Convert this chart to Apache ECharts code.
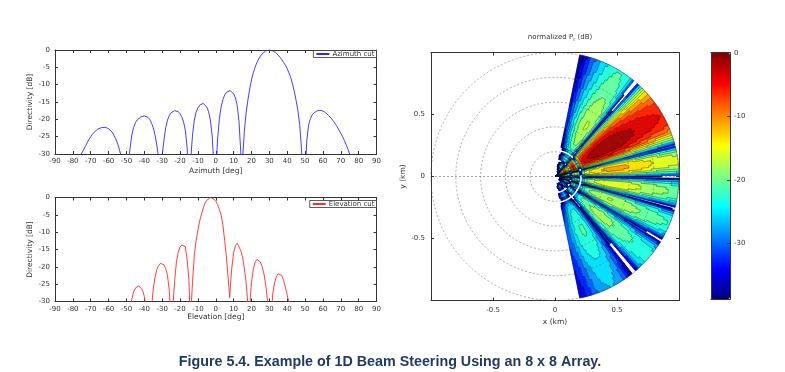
<!DOCTYPE html>
<html><head><meta charset="utf-8">
<script src="https://cdn.jsdelivr.net/npm/echarts@6/dist/echarts.min.js"></script>
<style>html,body{margin:0;padding:0;background:#fff}#c{width:785px;height:372px}</style>
</head><body><div id="c"></div>
<script>
// ---------- data ----------
const AZ_DEG = [-90,-85,-80,-78,-77,-76,-75,-74,-73,-72,-71,-70,-69,-68,-67,-66,-65,-64,-63,-62,-61,-60,-59,-58,-57,-56,-55,-54,-53,-52,-51,
  -50.5,-50,-49,-48,-47,-46,-45,-44,-43,-42,-41,-40,-39,-38,-37,-36,-35,-34,-33,-32,-31.5,-31,
  -30,-29,-28,-27,-26,-25,-24,-23,-22,-21,-20,-19,-18,-17,-16,-15.5,-14.8,-14,
  -13,-12,-11,-10,-9,-8,-7,-6,-5,-4,-3,-2,-1,-0.6,0,
  1,2,3,4,5,6,7,8,9,10,11,12,13,14,14.6,15,
  16,17,18,19,20,21,22,23,24,25,26,27,28,29,30,31,32,33,34,35,36,37,38,39,40,41,42,43,44,45,46,47,48,
  49,49.3,50,51,52,53,54,55,56,57,58,59,60,61,62,63,64,65,66,67,68,69,70,71,72,73,74,75,76,77,78,80,85,90];
const AZ_DB = [-42,-38,-33.5,-31.8,-31,-30.4,-29.7,-28.8,-27.8,-26.8,-25.8,-25,-24.3,-23.7,-23.2,-22.8,-22.6,-22.4,-22.3,-22.3,-22.4,-22.7,-23.1,-23.7,-24.6,-25.6,-26.9,-28.6,-30.6,-33.5,-38,
  -48,-38,-32.5,-28.5,-24.5,-22.4,-21,-20.2,-19.7,-19.3,-19.1,-19,-19.1,-19.4,-20,-21,-22.4,-24.5,-27.5,-31,-48,-36,
  -30.5,-26,-22.4,-20.2,-18.9,-18.1,-17.7,-17.5,-17.5,-17.8,-18.4,-19.3,-20.8,-23.2,-28.5,-35,-48,-31.5,
  -24.5,-20.2,-18,-16.7,-15.9,-15.5,-15.4,-15.7,-16.5,-17.8,-20.2,-24.8,-34,-48,-36,
  -26,-20,-16.5,-14.3,-13,-12.2,-11.8,-11.7,-11.9,-12.6,-13.8,-16,-20.5,-29.3,-48,-32,
  -23.5,-18.2,-14.4,-11.3,-8.6,-6.6,-5,-3.7,-2.6,-1.8,-1.1,-0.6,-0.25,-0.05,0,-0.05,-0.25,-0.6,-0.95,-1.5,-2.1,-2.8,-3.6,-4.4,-5.4,-6.6,-8,-9.8,-12,-14.6,-17.5,-21.5,-28.5,
  -38,-48,-36,-26,-21.6,-19.8,-18.7,-18.1,-17.7,-17.5,-17.4,-17.4,-17.6,-17.9,-18.3,-18.8,-19.3,-19.9,-20.6,-21.4,-22.2,-23.1,-24,-25,-26.1,-27.3,-28.6,-30,-31.5,-33,-34.5,-37,-42,-45];

const EL_DEG = [-50,-49,-48,-47,-46,-45,-44,-43,-42,-41,-40,-39,-38,-37.5,-37,
  -36,-35,-34,-33,-32,-31,-30,-29,-28,-27,-26,-25,-24.8,
  -24,-23,-22,-21,-20,-19,-18,-17,-16,-15,-14.5,-14,-13.5,
  -13,-12,-11,-10,-9,-8,-7,-6,-5,-4,-3,-2,-1,0,1,2,3,4,5,6,7,7.8,8.5,
  9,10,11,12,13,14,15,16,17,18,18.6,
  19,20,21,22,23,24,25,26,27,28,29,30.4,
  31,32,33,34,35,36,37,38,39,40,41,42];
const EL_DB = [-40,-35,-31.5,-29.4,-27.2,-26.1,-25.6,-25.5,-25.8,-26.7,-28.5,-32,-38,-45,-38,
  -32,-26.5,-23,-20.8,-19.6,-19,-18.9,-19.4,-20.5,-22.5,-27,-36,-45,
  -31.5,-24,-18.5,-15.8,-14.3,-13.7,-13.5,-14.2,-18,-24,-32,-40,-29,
  -24.5,-16.5,-12.5,-9.4,-6.8,-4.8,-3,-1.6,-0.8,-0.25,0,-0.1,-0.5,-1.1,-2,-3.4,-5,-8,-12.4,-17.3,-23.5,-28.9,-23.5,
  -20.3,-16,-13.9,-13.2,-13.6,-15.3,-17.2,-20.3,-24.5,-31,-42,
  -31.5,-24.5,-20.8,-18.7,-17.9,-17.8,-18.6,-20,-22.1,-25.2,-29.8,-42,
  -34,-27.5,-24.5,-22.7,-22,-21.9,-22.5,-23.9,-25.9,-28.2,-30.2,-33];

// radial profile of the received power along the beam (km, dB relative)
const RAD_KM = [0.01,0.03,0.05,0.07,0.09,0.11,0.13,0.15,0.17,0.19,0.21,0.23,0.25,0.27,0.29,0.31,0.33,0.35,0.37,0.39,
  0.41,0.43,0.45,0.47,0.49,0.51,0.53,0.55,0.57,0.59,0.61,0.63,0.65,0.67,0.69,0.71,0.73,0.75,0.77,0.79,
  0.81,0.83,0.85,0.87,0.89,0.91,0.93,0.95,0.97,0.99];
const RAD_DB = [-36,-28,-20,-12,-6,-11,-20,-7,-4.5,-10,-25,-9,-5,-3.8,-2.9,-2.3,-1.8,-1.4,-1.0,-0.7,
  -0.45,-0.25,-0.1,0,0,-0.05,-0.15,-0.3,-0.5,-0.7,-0.95,-1.2,-1.45,-1.7,-2.0,-2.25,-2.5,-2.75,-3.0,-3.25,
  -3.5,-3.7,-3.9,-4.1,-4.3,-4.5,-4.7,-4.85,-5.0,-5.15];

const RING_KM = [0.2, 0.4, 0.6, 0.8, 1.0];
const SECTOR_DEG = 78;
const LEVEL_MIN = -40, LEVEL_STEP = 2.5, N_LEVELS = 16;
const CBAR_MIN = -38.8, CBAR_MAX = 0;

// ---------- styling ----------
const BAND_COLORS = ['#00009F','#0000DF','#0020FF','#0060FF','#009FFF','#00DFFF','#20FFDF','#60FF9F',
  '#9FFF60','#DFFF20','#FFDF00','#FF9F00','#FF6000','#FF2000','#DF0000','#9F0000'];
const JET = ['#000080','#0000FF','#0080FF','#00FFFF','#80FF80','#FFFF00','#FF8000','#FF0000','#800000'];
const FONT = 'DejaVu Sans';
const TXT = '#333';

// ---------- polar grid of cells built from the arrays ----------
const PA = [];
AZ_DEG.forEach((d, i) => { if (Math.abs(d) <= SECTOR_DEG) PA.push({ d, v: AZ_DB[i] }); });
const NA = PA.length, NR = RAD_KM.length;
function bandOf(v) {
  if (v < LEVEL_MIN) return -1;
  return Math.min(N_LEVELS - 1, Math.floor((v - LEVEL_MIN) / LEVEL_STEP));
}
const CELLS = [];
const CELL_DATA = [];
for (let i = 0; i < NA; i++) {
  const aLo = i === 0 ? PA[i].d - 0.5 : (PA[i - 1].d + PA[i].d) / 2;
  const aHi = i === NA - 1 ? PA[i].d + 0.5 : (PA[i].d + PA[i + 1].d) / 2;
  CELLS.push([]);
  for (let j = 0; j < NR; j++) {
    const rLo = j === 0 ? 0 : (RAD_KM[j - 1] + RAD_KM[j]) / 2;
    const rHi = j === NR - 1 ? 1 : (RAD_KM[j] + RAD_KM[j + 1]) / 2;
    const v = PA[i].v + RAD_DB[j];
    CELLS[i].push({ aLo, aHi, rLo, rHi, band: bandOf(v) });
    CELL_DATA.push([RAD_KM[j], PA[i].d, v, i, j]);
  }
}
function nb(i, j) { return (i < 0 || i >= NA || j < 0 || j >= NR) ? -1 : CELLS[i][j].band; }

const chart = echarts.init(document.getElementById('c'), null, { renderer: 'canvas' });

const axisLineStyle = { show: true, lineStyle: { color: '#333', width: 1 } };
function lx(grid, pos, showLabel, extra) {
  return Object.assign({
    gridIndex: grid, type: 'value', position: pos, min: -90, max: 90, interval: 10,
    axisLine: Object.assign({ onZero: false }, axisLineStyle),
    axisTick: { show: true, inside: true, length: 3, lineStyle: { color: '#333' } },
    axisLabel: { show: showLabel, fontSize: 7, color: TXT, fontFamily: FONT, margin: 4 },
    splitLine: { show: false }
  }, extra || {});
}
function ly(grid, pos, showLabel, extra) {
  return Object.assign({
    gridIndex: grid, type: 'value', position: pos, min: -30, max: 0, interval: 5,
    axisLine: Object.assign({ onZero: false }, axisLineStyle),
    axisTick: { show: true, inside: true, length: 3, lineStyle: { color: '#333' } },
    axisLabel: { show: showLabel, fontSize: 7, color: TXT, fontFamily: FONT, margin: 5 },
    splitLine: { show: false }
  }, extra || {});
}
function px(grid, pos, showLabel, extra) {
  return Object.assign({
    gridIndex: grid, type: 'value', position: pos, min: -1, max: 1, interval: 0.5,
    axisLine: Object.assign({ onZero: false }, axisLineStyle),
    axisTick: { show: true, inside: true, length: 3, lineStyle: { color: '#333' } },
    axisLabel: { show: showLabel, fontSize: 7, color: TXT, fontFamily: FONT, margin: 6,
      formatter: v => (Math.abs(v) === 1 ? '' : String(v)) },
    splitLine: { show: false }
  }, extra || {});
}
const nameStyle = { fontSize: 7.5, color: TXT, fontFamily: FONT };
const legendBase = {
  orient: 'horizontal', itemWidth: 13, itemHeight: 6, itemGap: 2, padding: [0, 2, 0, 2],
  backgroundColor: '#fff', borderColor: '#333', borderWidth: 0.8, borderRadius: 0,
  itemStyle: { opacity: 0 },
  textStyle: { fontSize: 7, color: TXT, fontFamily: FONT, padding: [0, 0, 0, -2] }
};

const option = {
  animation: false,
  backgroundColor: '#fff',
  title: [{
    text: 'normalized P{s|r} (dB)', left: 555, top: 27, textAlign: 'center',
    textStyle: { fontSize: 7, color: TXT, fontFamily: FONT, fontWeight: 'normal',
      rich: { s: { fontSize: 5, color: TXT, fontFamily: FONT, padding: [5, 0, 0, 0] } } }
  }, {
    text: 'Figure 5.4. Example of 1D Beam Steering Using an 8 x 8 Array.', left: 385, top: 350, textAlign: 'center',
    textStyle: { fontSize: 14.3, color: '#1F3B64', fontFamily: 'Liberation Sans', fontWeight: 'bold' }
  }],
  legend: [
    Object.assign({ data: ['Azimuth cut'], right: 408.5, top: 50.5 }, legendBase),
    Object.assign({ data: ['Elevation cut'], right: 408.5, top: 200.5 }, legendBase)
  ],
  grid: [
    { left: 55, top: 50, width: 321.5, height: 104 },
    { left: 55, top: 197.5, width: 321.5, height: 104 },
    { left: 431, top: 52.5, width: 248, height: 248 },
    { left: 711, top: 52.7, width: 19, height: 246.6 }
  ],
  polar: { center: [555, 176.5], radius: 124 },
  angleAxis: {
    type: 'value', min: -180, max: 180, interval: 180, startAngle: 180, clockwise: false,
    axisLine: { show: false }, axisTick: { show: false }, axisLabel: { show: false },
    splitLine: { show: true, lineStyle: { type: [2, 2], color: '#666', width: 0.6 } }
  },
  radiusAxis: {
    type: 'value', min: 0, max: 1,
    axisLine: { show: false }, axisTick: { show: false }, axisLabel: { show: false }, splitLine: { show: false }
  },
  xAxis: [
    lx(0, 'bottom', true, { name: 'Azimuth [deg]', nameLocation: 'middle', nameGap: 13, nameTextStyle: nameStyle }),
    lx(0, 'top', false),
    lx(1, 'bottom', true, { name: 'Elevation [deg]', nameLocation: 'middle', nameGap: 12, nameTextStyle: nameStyle }),
    lx(1, 'top', false),
    px(2, 'bottom', true, { name: 'x (km)', nameLocation: 'middle', nameGap: 12, nameTextStyle: nameStyle }),
    px(2, 'top', false),
    { gridIndex: 3, type: 'value', position: 'bottom', min: 0, max: 1, z: 10,
      axisLine: Object.assign({ onZero: false }, axisLineStyle), axisTick: { show: false }, axisLabel: { show: false }, splitLine: { show: false } },
    { gridIndex: 3, type: 'value', position: 'top', min: 0, max: 1, z: 10,
      axisLine: Object.assign({ onZero: false }, axisLineStyle), axisTick: { show: false }, axisLabel: { show: false }, splitLine: { show: false } }
  ],
  yAxis: [
    ly(0, 'left', true, { name: 'Directivity [dB]', nameLocation: 'middle', nameGap: 21, nameRotate: 90, nameTextStyle: nameStyle }),
    ly(0, 'right', false),
    ly(1, 'left', true, { name: 'Directivity [dB]', nameLocation: 'middle', nameGap: 21, nameRotate: 90, nameTextStyle: nameStyle }),
    ly(1, 'right', false),
    px(2, 'left', true, { name: 'y (km)', nameLocation: 'middle', nameGap: 22, nameRotate: 90, nameTextStyle: nameStyle }),
    px(2, 'right', false),
    { gridIndex: 3, type: 'value', position: 'right', min: CBAR_MIN, max: CBAR_MAX, z: 10,
      axisLine: Object.assign({ onZero: false }, axisLineStyle),
      axisTick: { show: true, inside: true, length: 3, lineStyle: { color: '#333' } },
      axisLabel: { show: true, fontSize: 7, color: TXT, fontFamily: FONT, margin: 4,
        formatter: v => (Math.abs(v % 10) < 1e-6 ? String(v) : '') },
      splitLine: { show: false } },
    { gridIndex: 3, type: 'value', position: 'left', min: CBAR_MIN, max: CBAR_MAX, z: 10,
      axisLine: Object.assign({ onZero: false }, axisLineStyle), axisTick: { show: false }, axisLabel: { show: false }, splitLine: { show: false } }
  ],
  visualMap: {
    type: 'continuous', min: CBAR_MIN, max: CBAR_MAX, left: 711, top: 52.7, padding: 0,
    itemWidth: 19, itemHeight: 246.6, calculable: false, text: null, showLabel: false,
    hoverLink: false, seriesIndex: 2, dimension: 2,
    inRange: { color: JET }
  },
  series: [
    {
      name: 'Azimuth cut', type: 'line', xAxisIndex: 0, yAxisIndex: 0, symbol: 'none', clip: true,
      lineStyle: { color: '#2a2aff', width: 0.9 }, itemStyle: { color: '#2a2aff' },
      data: AZ_DEG.map((d, i) => [d, AZ_DB[i]])
    },
    {
      name: 'Elevation cut', type: 'line', xAxisIndex: 2, yAxisIndex: 2, symbol: 'none', clip: true,
      lineStyle: { color: '#ff2a2a', width: 0.9 }, itemStyle: { color: '#ff2a2a' },
      data: EL_DEG.map((d, i) => [d, EL_DB[i]])
    },
    {
      name: 'pr', type: 'custom', coordinateSystem: 'polar', polarIndex: 0, progressive: 0, silent: true,
      encode: { radius: 0, angle: 1 },
      renderItem: function (params, api) {
        const c = CELLS[api.value(3)][api.value(4)];
        if (c.band < 0) return null;
        const col = BAND_COLORS[c.band];
        return {
          type: 'polygon',
          shape: { points: [api.coord([c.rLo, c.aLo]), api.coord([c.rHi, c.aLo]), api.coord([c.rHi, c.aHi]), api.coord([c.rLo, c.aHi])] },
          style: { fill: col, stroke: col, lineWidth: 0.6 }
        };
      },
      data: CELL_DATA, z: 2
    },
    {
      name: 'contours', type: 'custom', coordinateSystem: 'polar', polarIndex: 0, progressive: 0, silent: true,
      encode: { radius: 0, angle: 1 },
      renderItem: function (params, api) {
        const i = api.value(3), j = api.value(4);
        const c = CELLS[i][j], b = c.band;
        const ch = [];
        const seg = (p, q) => ch.push({ type: 'line', shape: { x1: p[0], y1: p[1], x2: q[0], y2: q[1] },
          style: { stroke: '#000', lineWidth: 0.45, opacity: 0.75 } });
        if (b !== nb(i + 1, j)) seg(api.coord([c.rLo, c.aHi]), api.coord([c.rHi, c.aHi]));
        if (i === 0 && b >= 0) seg(api.coord([c.rLo, c.aLo]), api.coord([c.rHi, c.aLo]));
        if (b !== nb(i, j + 1)) seg(api.coord([c.rHi, c.aLo]), api.coord([c.rHi, c.aHi]));
        if (j === 0 && b >= 0) seg(api.coord([c.rLo, c.aLo]), api.coord([c.rLo, c.aHi]));
        return { type: 'group', children: ch };
      },
      data: CELL_DATA, z: 3
    },
    {
      name: 'rings', type: 'custom', coordinateSystem: 'polar', polarIndex: 0, silent: true,
      encode: { radius: 0, angle: 1 },
      renderItem: function (params, api) {
        const c0 = api.coord([0, 0]);
        const e = api.coord([api.value(0), 0]);
        const R = Math.hypot(e[0] - c0[0], e[1] - c0[1]);
        return { type: 'circle', shape: { cx: c0[0], cy: c0[1], r: R },
          style: { fill: 'none', stroke: '#555', lineWidth: 0.6, lineDash: [2, 2], opacity: 0.8 } };
      },
      data: RING_KM.map(r => [r, 0]), z: 4
    }
  ]
};
chart.setOption(option);
</script>
</body></html>
